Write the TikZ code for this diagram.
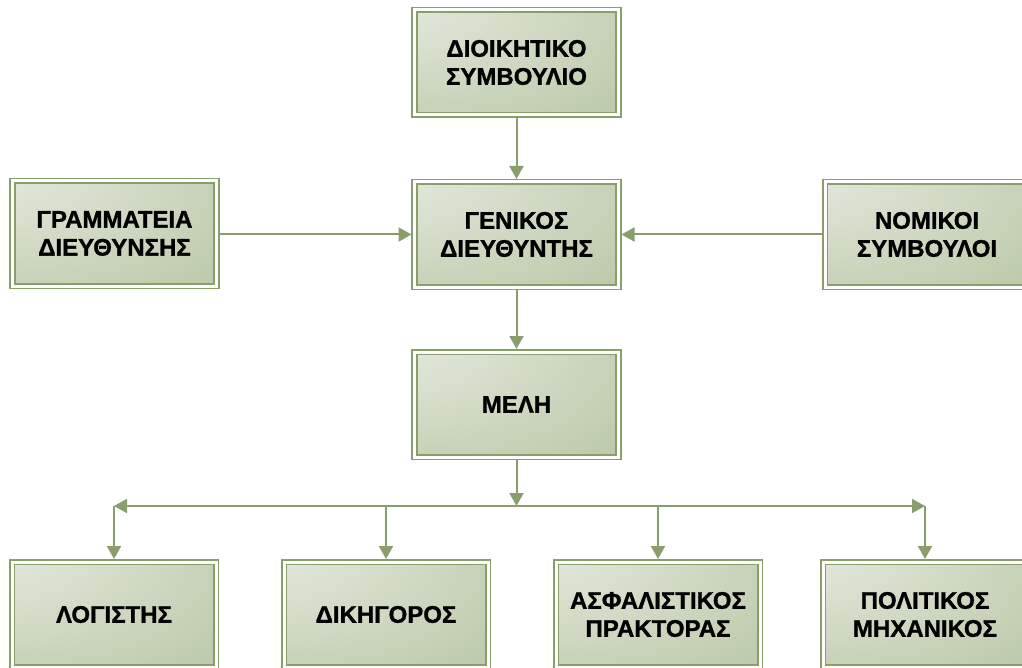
\documentclass[tikz,border=0pt]{standalone}
\usepackage{fontspec}
\setmainfont{Liberation Sans}[BoldFeatures={FakeBold=1.2}]
\usetikzlibrary{arrows.meta}
\definecolor{boxlight}{HTML}{F0F2EC}
\definecolor{boxdark}{HTML}{B2C19C}
\definecolor{boxline}{HTML}{8A9E6C}
\pgfdeclareradialshading{boxshade}{\pgfpoint{-45bp}{45bp}}{color(0bp)=(boxlight); color(25bp)=(boxlight!65!boxdark); color(72bp)=(boxdark); color(100bp)=(boxdark)}
\begin{document}
\begin{tikzpicture}[x=1pt,y=-1pt,
  orgbox/.style={shading=boxshade, draw=boxline, line width=1.6pt, double=white, double distance=3pt,
    minimum width=204pt, minimum height=105pt, inner sep=0pt, outer sep=3pt, align=center,
    font=\fontsize{24}{28}\selectfont\bfseries},
  conn/.style={draw=boxline, line width=2pt, -{Triangle[length=13pt,width=14pt]}}]
\useasboundingbox (0,0) rectangle (1022,668);
\node[orgbox] (top) at (516.5,62.5) {ΔΙΟΙΚΗΤΙΚΟ\\ΣΥΜΒΟΥΛΙΟ};
\node[orgbox] (gen) at (516.5,234.5) {ΓΕΝΙΚΟΣ\\ΔΙΕΥΘΥΝΤΗΣ};
\node[orgbox] (gram) at (114.5,233.5) {ΓΡΑΜΜΑΤΕΙΑ\\ΔΙΕΥΘΥΝΣΗΣ};
\node[orgbox] (nom) at (927,234.5) {ΝΟΜΙΚΟΙ\\ΣΥΜΒΟΥΛΟΙ};
\node[orgbox] (meli) at (516.5,404.5) {ΜΕΛΗ};
\node[orgbox] (log) at (114,614.5) {ΛΟΓΙΣΤΗΣ};
\node[orgbox] (dik) at (386,614.5) {ΔΙΚΗΓΟΡΟΣ};
\node[orgbox] (asf) at (658,614.5) {ΑΣΦΑΛΙΣΤΙΚΟΣ\\ΠΡΑΚΤΟΡΑΣ};
\node[orgbox] (pol) at (925,614.5) {ΠΟΛΙΤΙΚΟΣ\\ΜΗΧΑΝΙΚΟΣ};
\coordinate (j) at (516.5,506);
\coordinate (hl) at (114,506);
\coordinate (hr) at (925,506);
\draw[conn] (top) -- (gen);
\draw[conn] (gram.east |- gen) -- (gen.west);
\draw[conn] (nom.west |- gen) -- (gen.east);
\draw[conn] (gen) -- (meli);
\draw[conn] (meli) -- (j);
\draw[conn] (j) -- (hl);
\draw[conn] (j) -- (hr);
\draw[conn] (hl) -- (log.north);
\draw[conn] (dik.north |- j) -- (dik.north);
\draw[conn] (asf.north |- j) -- (asf.north);
\draw[conn] (hr) -- (pol.north);
\end{tikzpicture}
\end{document}
